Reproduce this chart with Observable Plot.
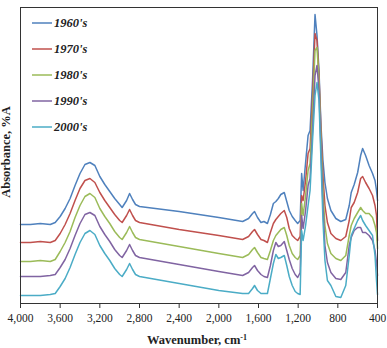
<!DOCTYPE html>
<html><head><meta charset="utf-8">
<script src="https://cdn.jsdelivr.net/npm/d3@7"></script>
<script src="https://cdn.jsdelivr.net/npm/@observablehq/plot@0.6"></script>
<style>
body{margin:0;background:#fff;}
#chart{position:relative;width:387px;height:348px;}
</style></head><body><div id="chart"></div>
<script>
const wavenumber = [4000,3900,3800,3700,3650,3600,3550,3500,3450,3400,3350,3300,3250,3200,3150,3100,3050,3000,2975,2930,2900,2870,2840,2800,2400,2000,1760,
 1700,1660,1640,1610,1575,1545,1510,1480,1450,1425,1400,1375,1340,1315,1290,1260,1230,1205,1180,1165,1150,1125,1100,1080,1055,1030,1010,990,970,950,930,905,870,820,770,720,685,665,635,600,570,550,520,485,450,425,410,400];

const s1960 = [79,79,80,79,81,87,95,105,118,130,139,141,138,127,119,112,105,99,96,103,110,104,99,97,92,86,82,
 85,90,92,86,81,82,80,89,100,102,105,109,111,102,93,87,83,80,83,130,113,141,168,173,223,289,268,233,178,143,121,105,93,85,82,84,98,111,119,131,148,155,148,138,130,123,113,103];
const s1970 = [61,61,62,61,63,70,79,90,103,115,123,125,121,111,103,96,89,83,81,88,94,88,83,81,74,68,64,
 67,72,74,69,64,63,61,71,80,84,87,90,93,86,75,68,65,63,67,108,103,123,150,155,208,270,263,228,173,128,98,81,70,65,63,67,83,96,101,111,125,127,121,115,108,98,88,63];
const s1980 = [42,42,43,42,44,52,61,72,86,98,107,110,106,95,87,80,72,66,64,71,77,71,66,64,57,50,46,
 49,54,56,51,46,45,44,53,63,68,71,74,76,68,58,50,46,44,48,100,88,108,133,140,193,253,256,223,163,113,78,60,50,45,43,48,68,78,85,91,96,93,90,90,86,78,71,55];
const s1990 = [27,27,27,28,29,36,44,55,68,80,89,91,88,77,69,62,54,48,46,53,59,53,48,46,39,32,28,
 31,36,38,33,29,27,26,38,53,61,57,58,62,53,44,35,29,26,31,88,75,93,118,125,173,228,238,213,153,98,58,41,31,25,24,31,58,66,73,76,76,71,71,68,63,53,41,28];
const s2000 = [8,8,8,9,10,17,25,36,49,61,70,73,69,58,50,43,35,29,27,34,40,34,29,27,20,13,10,
 10,15,18,13,10,10,10,25,40,49,45,46,48,38,27,18,12,10,9,73,63,78,98,113,163,208,221,203,143,83,43,23,18,7,6,18,48,68,75,83,88,83,78,73,68,48,23,9];

const seriesNames = ["1960's","1970's","1980's","1990's","2000's"];
const seriesColors = ["#4F81BD","#C0504D","#9BBB59","#8064A2","#4BACC6"];
const xTicks = [4000,3600,3200,2800,2400,2000,1600,1200,800,400];
const seriesValues = [s1960,s1970,s1980,s1990,s2000];

const rows = seriesNames.flatMap((name,i)=>wavenumber.map((w,j)=>({series:name, w, a:seriesValues[i][j]})));

const serif = "'Liberation Serif','Times New Roman',serif";
const chart = Plot.plot({
  width:387, height:348,
  marginTop:7, marginBottom:45, marginLeft:20, marginRight:10,
  style:{fontFamily:serif, fontSize:"11.5px", color:"#222", background:"#fff"},
  x:{domain:[4000,400]},
  y:{domain:[0,296], axis:null},
  color:{domain:seriesNames, range:seriesColors},
  marks:[
    Plot.lineY(rows,{x:"w", y:"a", stroke:"series", strokeWidth:1.5}),
    Plot.frame({stroke:"#333", strokeWidth:1}),
    Plot.axisX({ticks:xTicks, tickFormat:d3.format(","), tickSize:5, tickPadding:5, label:null, stroke:"#333"})
  ]
});
document.getElementById("chart").appendChild(chart);

const svg = d3.select(chart);
const xt = svg.append("text").attr("x",197).attr("y",344).attr("text-anchor","middle")
  .style("font-family",serif).style("font-weight","bold").style("font-size","12.5px").attr("fill","#222");
xt.append("tspan").text("Wavenumber, cm");
xt.append("tspan").attr("dy","-4").style("font-size","8px").text("-1");

svg.append("text").attr("transform","translate(10,152) rotate(-90)").attr("text-anchor","middle")
  .style("font-family",serif).style("font-weight","bold").style("font-size","12.5px").attr("fill","#222")
  .text("Absorbance, %A");

const leg = svg.append("g").attr("text-anchor","start");
seriesNames.forEach((n,i)=>{
  const y = 23 + i*26;
  leg.append("line").attr("x1",32).attr("x2",52).attr("y1",y).attr("y2",y)
    .attr("stroke",seriesColors[i]).attr("stroke-width",1.5);
  leg.append("text").attr("x",54).attr("y",y).attr("dy","0.35em").attr("text-anchor","start")
    .style("font-family",serif).style("font-weight","bold").style("font-style","italic").style("font-size","12.5px")
    .attr("fill","#222").text(n);
});
</script></body></html>
